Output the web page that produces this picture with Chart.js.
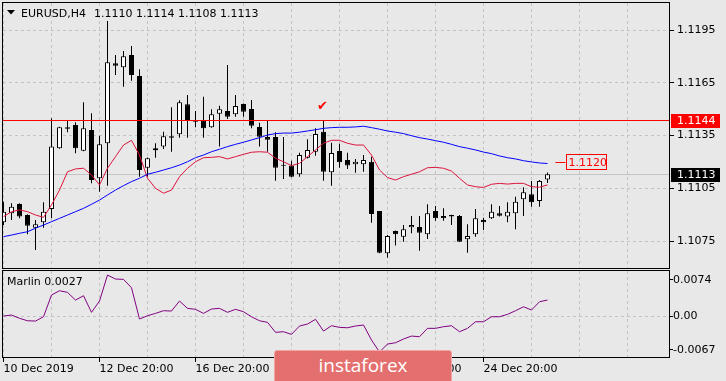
<!DOCTYPE html>
<html><head><meta charset="utf-8">
<script src="https://cdn.jsdelivr.net/npm/chart.js@4/dist/chart.umd.min.js"></script>
<style>
html,body{margin:0;padding:0;background:#e8e8e8;}
body{width:726px;height:381px;position:relative;overflow:hidden;}
#main{position:absolute;left:0;top:0;}
#osc{position:absolute;left:0;top:268px;}
#wm{position:absolute;left:274px;top:350px;width:178px;height:32px;background:#e46f6f;border:1px solid #f0a4a4;box-sizing:border-box;color:#fff;font:19px 'Open Sans';text-align:center;line-height:28px;border-radius:3px 3px 0 0;}
</style></head><body>
<canvas id="main" width="726" height="270"></canvas>
<canvas id="osc" width="726" height="113"></canvas>
<div id="wm">instaforex</div>
<script>
// ---- data ----
const opens  = [1.10857,1.10908,1.10961,1.10898,1.10826,1.10857,1.10932,1.11278,1.11397,1.11410,
                1.11264,1.11382,1.11107,1.11306,1.11761,1.11738,1.11808,1.11689,1.11167,1.11266,
                1.11287,1.11346,1.11357,1.11528,1.11434,1.11434,1.11397,1.11474,1.11490,1.11471,
                1.11529,1.11501,1.11399,1.11342,1.11342,1.11182,1.11179,1.11130,1.11224,1.11258,
                1.11372,1.11141,1.11262,1.11211,1.11187,1.11187,1.11201,1.10921,1.10680,1.10807,
                1.10775,1.10828,1.10830,1.10788,1.10921,1.10892,1.10898,1.10892,1.10760,1.10788,
                1.10870,1.10879,1.10908,1.10889,1.10908,1.10987,1.11016,1.10978,1.11100];
const highs  = [1.10974,1.10965,1.10965,1.10902,1.10870,1.10970,1.11448,1.11400,1.11433,1.11425,
                1.11539,1.11477,1.11349,1.12002,1.11808,1.11831,1.11859,1.11727,1.11225,1.11306,
                1.11372,1.11511,1.11551,1.11581,1.11490,1.11571,1.11499,1.11520,1.11751,1.11581,
                1.11532,1.11552,1.11423,1.11437,1.11369,1.11342,1.11207,1.11252,1.11329,1.11391,
                1.11437,1.11309,1.11304,1.11252,1.11217,1.11239,1.11230,1.10921,1.10784,1.10810,
                1.10841,1.10892,1.10892,1.10959,1.10949,1.10936,1.10900,1.10898,1.10845,1.10932,
                1.10883,1.10959,1.10949,1.10970,1.11002,1.11056,1.11092,1.11097,1.11140];
const lows   = [1.10841,1.10870,1.10879,1.10788,1.10699,1.10826,1.10879,1.11275,1.11369,1.11249,
                1.11260,1.11078,1.11031,1.11065,1.11694,1.11628,1.11662,1.11116,1.11116,1.11224,
                1.11274,1.11258,1.11338,1.11338,1.11397,1.11338,1.11395,1.11287,1.11444,1.11457,
                1.11457,1.11391,1.11287,1.11258,1.11093,1.11103,1.11113,1.11116,1.11220,1.11235,
                1.11093,1.11065,1.11167,1.11160,1.11139,1.11144,1.10854,1.10680,1.10655,1.10724,
                1.10746,1.10794,1.10695,1.10762,1.10866,1.10866,1.10841,1.10744,1.10684,1.10775,
                1.10813,1.10875,1.10889,1.10857,1.10817,1.10892,1.10945,1.10945,1.11080];
const closes = [1.10917,1.10945,1.10889,1.10837,1.10845,1.10917,1.11287,1.11397,1.11389,1.11278,
                1.11391,1.11097,1.11300,1.11767,1.11747,1.11801,1.11694,1.11154,1.11221,1.11278,
                1.11346,1.11338,1.11539,1.11433,1.11429,1.11391,1.11471,1.11499,1.11457,1.11518,
                1.11486,1.11406,1.11343,1.11326,1.11167,1.11180,1.11116,1.11239,1.11268,1.11359,
                1.11144,1.11251,1.11198,1.11179,1.11201,1.11211,1.10904,1.10684,1.10779,1.10788,
                1.10817,1.10841,1.10797,1.10908,1.10879,1.10879,1.10889,1.10746,1.10779,1.10879,
                1.10857,1.10917,1.10894,1.10917,1.10974,1.11027,1.10970,1.11092,1.11130];
const maRed  = [1.10889,1.10917,1.10927,1.10917,1.10898,1.10885,1.10955,1.11040,1.11144,1.11160,
                1.11164,1.11126,1.11069,1.11164,1.11230,1.11296,1.11323,1.11239,1.11107,1.11050,
                1.11022,1.11040,1.11116,1.11164,1.11201,1.11224,1.11226,1.11230,1.11217,1.11230,
                1.11243,1.11255,1.11258,1.11255,1.11221,1.11201,1.11179,1.11192,1.11230,1.11268,
                1.11306,1.11323,1.11323,1.11306,1.11296,1.11296,1.11239,1.11154,1.11111,1.11097,
                1.11116,1.11130,1.11144,1.11167,1.11169,1.11164,1.11148,1.11107,1.11069,1.11059,
                1.11055,1.11073,1.11078,1.11074,1.11078,1.11078,1.11059,1.11056,1.11069];
const maBlue = [1.10775,1.10784,1.10794,1.10803,1.10823,1.10841,1.10860,1.10879,1.10898,1.10917,
                1.10936,1.10959,1.10983,1.11012,1.11040,1.11065,1.11088,1.11107,1.11130,1.11141,
                1.11154,1.11167,1.11182,1.11201,1.11224,1.11239,1.11258,1.11272,1.11287,1.11300,
                1.11312,1.11325,1.11338,1.11353,1.11361,1.11364,1.11364,1.11369,1.11376,1.11383,
                1.11391,1.11395,1.11397,1.11397,1.11399,1.11403,1.11395,1.11386,1.11376,1.11369,
                1.11361,1.11349,1.11338,1.11330,1.11321,1.11312,1.11300,1.11287,1.11278,1.11268,
                1.11256,1.11247,1.11234,1.11224,1.11217,1.11207,1.11200,1.11194,1.11191];
const marlin = [0.00008,0.00028,-0.00038,-0.00087,-0.00093,-0.00006,0.00431,0.00518,0.00485,0.00330,
                0.00417,0.00083,0.00310,0.00834,0.00753,0.00747,0.00578,-0.00052,0.00014,0.00062,
                0.00115,0.00109,0.00310,0.00163,0.00143,0.00062,0.00149,0.00163,0.00083,0.00143,
                0.00095,-0.00006,-0.00087,-0.00119,-0.00320,-0.00308,-0.00361,-0.00193,-0.00153,-0.00058,
                -0.00294,-0.00187,-0.00220,-0.00228,-0.00193,-0.00173,-0.00475,-0.00717,-0.00556,-0.00530,
                -0.00455,-0.00395,-0.00409,-0.00240,-0.00240,-0.00207,-0.00187,-0.00308,-0.00240,-0.00107,
                -0.00107,-0.00006,-0.00006,0.00042,0.00115,0.00195,0.00129,0.00296,0.00330];
const timeTickIdx   = [0, 12, 24, 36, 48, 60];
const timeTickText  = ['10 Dec 2019','12 Dec 20:00','16 Dec 20:00','18 Dec 20:00','20 Dec 20:00','24 Dec 20:00'];
const gridIdx       = [0,6,12,18,24,30,36,42,48,54,60,66,72,78];
const priceTicks    = [1.1075, 1.1105, 1.1135, 1.1165, 1.1195];
const oscTicks      = [-0.0067, 0, 0.0074];
const oscTickText   = ['-0.0067', '0.00', '0.0074'];
const levelLine     = 1.1144;
const bidPrice      = 1.1113;
const maBlueLabel   = 1.1120;
const titleSymbol   = 'EURUSD,H4';
const titleOHLC     = '1.1110 1.1114 1.1108 1.1113';
const oscName       = 'Marlin';
const oscValueText  = '0.0027';
const checkBar      = 40;

// ---- rendering ----
Chart.defaults.font.family = "'DejaVu Sans'";
Chart.defaults.font.size = 11;
Chart.defaults.color = '#000';
const GRID = '#c3c3c3';
const XMIN = -0.0625, XMAX = 83.1875;
const idx = opens.map((_, i) => i);

const bodies = idx.map(i => {
  let lo = Math.min(opens[i], closes[i]), hi = Math.max(opens[i], closes[i]);
  if (hi - lo < 0.00006) { const m = (hi + lo) / 2; lo = m - 0.00003; hi = m + 0.00003; }
  return {x: i, y: [lo, hi]};
});
const wicks = idx.map(i => ({x: i, y: [lows[i], highs[i]]}));
const bodyColors = idx.map(i => closes[i] >= opens[i] ? '#ffffff' : '#000000');

function xScaleCommon(extra) {
  return Object.assign({
    type: 'linear', min: XMIN, max: XMAX, offset: false,
    afterBuildTicks: s => { s.ticks = gridIdx.map(v => ({value: v})); },
  }, extra);
}

const mainOverlay = {
  id: 'mainOverlay',
  beforeDatasetsDraw(chart) {
    const {ctx, chartArea: a, scales: {y}} = chart;
    const yb = Math.round(y.getPixelForValue(bidPrice)) + 0.5;
    ctx.save();
    ctx.strokeStyle = '#c4c4c4'; ctx.lineWidth = 1;
    ctx.beginPath(); ctx.moveTo(a.left, yb); ctx.lineTo(a.right, yb); ctx.stroke();
    ctx.restore();
  },
  afterDatasetsDraw(chart) {
    const {ctx, chartArea: a, scales: {x, y}} = chart;
    ctx.save();
    // resistance level
    const yl = Math.round(y.getPixelForValue(levelLine)) + 0.5;
    ctx.strokeStyle = '#ff0000'; ctx.lineWidth = 1;
    ctx.beginPath(); ctx.moveTo(a.left, yl); ctx.lineTo(a.right, yl); ctx.stroke();
    // frame
    ctx.strokeStyle = '#000';
    ctx.strokeRect(a.left - 0.5, a.top - 0.5, a.right - a.left + 1, a.bottom - a.top + 1);
    // price boxes on the axis
    ctx.font = "11px 'DejaVu Sans'"; ctx.textBaseline = 'middle'; ctx.textAlign = 'left';
    const box = (v, bg) => {
      const yy = Math.round(y.getPixelForValue(v));
      ctx.fillStyle = bg; ctx.fillRect(a.right + 2, yy - 6, 49, 14);
      ctx.fillStyle = '#fff'; ctx.fillText(v.toFixed(4), a.right + 8, yy + 1);
    };
    box(levelLine, '#ff0000');
    box(bidPrice, '#000000');
    // MA value label
    const ym = Math.round(y.getPixelForValue(maBlueLabel)) + 0.5;
    const xl = x.getPixelForValue(opens.length - 1);
    ctx.strokeStyle = '#ff0000';
    ctx.beginPath(); ctx.moveTo(xl + 8, ym); ctx.lineTo(xl + 18, ym); ctx.stroke();
    ctx.strokeRect(Math.round(xl + 18) + 0.5, ym - 8, 40, 15);
    ctx.fillStyle = '#ff0000'; ctx.fillText(maBlueLabel.toFixed(4), xl + 21, ym + 0.5);
    // check mark above the bar that touched the level
    ctx.font = "13px 'DejaVu Sans'"; ctx.textAlign = 'center'; ctx.textBaseline = 'alphabetic';
    ctx.fillStyle = '#ff0000';
    ctx.fillText('\u2714', x.getPixelForValue(checkBar) - 1, y.getPixelForValue(highs[checkBar]) - 10);
    // title
    ctx.fillStyle = '#000';
    ctx.beginPath(); ctx.moveTo(7, 10); ctx.lineTo(15, 10); ctx.lineTo(11, 14.5); ctx.closePath(); ctx.fill();
    ctx.font = "11px 'DejaVu Sans'"; ctx.textAlign = 'left';
    ctx.fillText(titleSymbol, 21, 16.5);
    ctx.fillText(titleOHLC, 94, 16.5);
    ctx.restore();
  }
};

new Chart(document.getElementById('main'), {
  type: 'line',
  data: {
    datasets: [
      {type: 'line', data: idx.map(i => ({x: i, y: maBlue[i]})), borderColor: '#0000ff', borderWidth: 1, pointRadius: 0, tension: 0, fill: false},
      {type: 'line', data: idx.map(i => ({x: i, y: maRed[i]})), borderColor: '#dc143c', borderWidth: 1, pointRadius: 0, tension: 0, fill: false},
      {type: 'bar', data: bodies, grouped: false, barThickness: 5, borderWidth: 1, borderColor: '#000',
       backgroundColor: bodyColors, borderSkipped: false, inflateAmount: 0},
      {type: 'bar', data: wicks, grouped: false, barThickness: 1, borderWidth: 0,
       backgroundColor: '#000', borderSkipped: false, inflateAmount: 0}
    ]
  },
  options: {
    responsive: false, animation: false, devicePixelRatio: 1, events: [],
    layout: {padding: {left: 3, top: 3, right: 0, bottom: 2}},
    plugins: {legend: {display: false}, tooltip: {enabled: false}},
    scales: {
      x: xScaleCommon({
        grid: {color: GRID, drawTicks: false, offset: false},
        border: {display: false, dash: [3, 3]},
        ticks: {display: false},
        afterFit: s => { s.height = 0; s.paddingLeft = 0; s.paddingRight = 0; }
      }),
      y: {
        type: 'linear', position: 'right', min: 1.105967, max: 1.121038,
        grid: {color: GRID, tickColor: '#000', tickLength: 5, tickBorderDash: []},
        border: {display: false, dash: [3, 3]},
        ticks: {padding: 3, color: '#000', callback: v => Number(v).toFixed(4)},
        afterBuildTicks: s => { s.ticks = priceTicks.map(v => ({value: v})); },
        afterFit: s => { s.width = 57; s.paddingTop = 0; s.paddingBottom = 0; }
      }
    }
  },
  plugins: [mainOverlay]
});

const oscOverlay = {
  id: 'oscOverlay',
  afterDatasetsDraw(chart) {
    const {ctx, chartArea: a} = chart;
    ctx.save();
    ctx.strokeStyle = '#000'; ctx.lineWidth = 1;
    ctx.strokeRect(a.left - 0.5, a.top - 0.5, a.right - a.left + 1, a.bottom - a.top + 1);
    ctx.fillStyle = '#000'; ctx.font = "11px 'DejaVu Sans'"; ctx.textBaseline = 'alphabetic';
    ctx.fillText(oscName + ' ' + oscValueText, 7, a.top + 14);
    ctx.restore();
  }
};

new Chart(document.getElementById('osc'), {
  type: 'line',
  data: {
    datasets: [
      {data: idx.map(i => ({x: i, y: marlin[i]})), borderColor: '#800080', borderWidth: 1, pointRadius: 0, tension: 0, fill: false}
    ]
  },
  options: {
    responsive: false, animation: false, devicePixelRatio: 1, events: [],
    layout: {padding: {left: 3, top: 3, right: 0, bottom: 0}},
    plugins: {legend: {display: false}, tooltip: {enabled: false}},
    scales: {
      x: xScaleCommon({
        grid: {color: GRID, offset: false, tickLength: 5, tickBorderDash: [],
               tickColor: c => (c.tick && timeTickIdx.includes(c.tick.value)) ? '#000' : 'rgba(0,0,0,0)'},
        border: {display: false, dash: [3, 3]},
        ticks: {autoSkip: false, maxRotation: 0, minRotation: 0, align: 'start', padding: 1, color: '#000',
                callback: v => { const k = timeTickIdx.indexOf(v); return k >= 0 ? timeTickText[k] : ''; }},
        afterFit: s => { s.height = 24; s.paddingLeft = 0; s.paddingRight = 0; }
      }),
      y: {
        type: 'linear', position: 'right', min: -0.00817, max: 0.009152,
        grid: {color: c => (c.tick && c.tick.value === 0) ? GRID : 'rgba(0,0,0,0)', tickColor: '#000', tickLength: 4, tickBorderDash: []},
        border: {display: false, dash: [3, 3]},
        ticks: {padding: 0, color: '#000', callback: v => { const k = oscTicks.indexOf(v); return k >= 0 ? oscTickText[k] : ''; }},
        afterBuildTicks: s => { s.ticks = oscTicks.map(v => ({value: v})); },
        afterFit: s => { s.width = 57; s.paddingTop = 0; s.paddingBottom = 0; }
      }
    }
  },
  plugins: [oscOverlay]
});
</script>
</body></html>
